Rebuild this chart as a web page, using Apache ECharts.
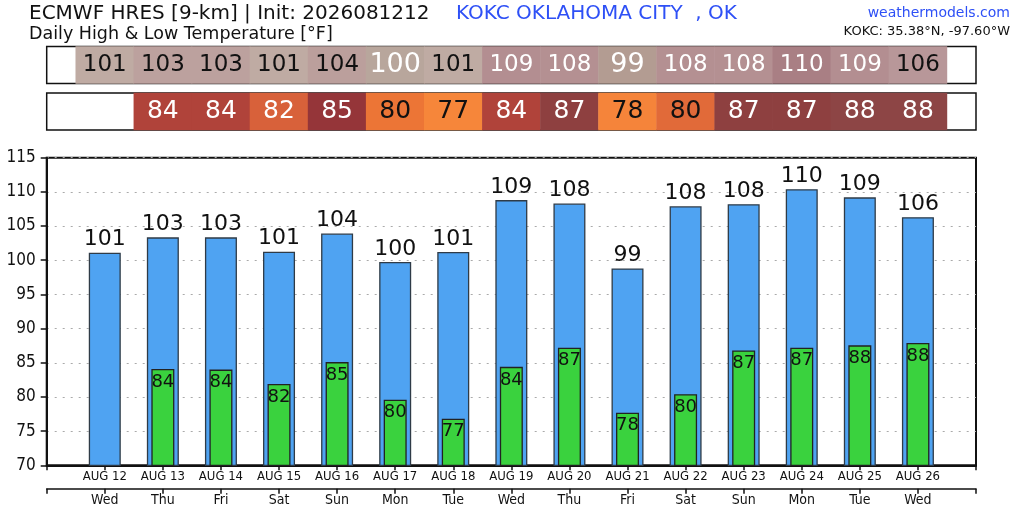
<!DOCTYPE html>
<html lang="en">
<head>
    <meta charset="UTF-8">
    <title>ECMWF HRES Daily High & Low</title>
    <script src="https://cdn.jsdelivr.net/npm/echarts@6/dist/echarts.min.js"></script>
    <style>
        html, body { margin: 0; padding: 0; background: #fff; }
        #main { width: 1024px; height: 512px; }
    </style>
</head>
<body>
<div id="main"></div>
<script type="text/javascript">
    // values
    var dates = ['AUG 12', 'AUG 13', 'AUG 14', 'AUG 15', 'AUG 16', 'AUG 17', 'AUG 18', 'AUG 19',
                 'AUG 20', 'AUG 21', 'AUG 22', 'AUG 23', 'AUG 24', 'AUG 25', 'AUG 26'];
    var days = ['Wed', 'Thu', 'Fri', 'Sat', 'Sun', 'Mon', 'Tue', 'Wed',
                'Thu', 'Fri', 'Sat', 'Sun', 'Mon', 'Tue', 'Wed'];
    var highs = [101.1, 103.35, 103.35, 101.25, 103.9, 99.74, 101.2, 108.8,
                 108.3, 98.8, 107.9, 108.2, 110.4, 109.2, 106.3];
    var lows = [null, 84.1, 84.0, 81.9, 85.1, 79.6, 76.8, 84.4,
                87.2, 77.7, 80.4, 86.8, 87.2, 87.55, 87.9];
    var yTicks = { min: 70, max: 115, step: 5 };

    var FONT = 'DejaVu Sans';
    var FONT_C = 'DejaVu Sans Condensed';

    // one empty slot on each side of the days
    var xDates = [''].concat(dates, ['']);
    var xDays = [''].concat(days, ['']);
    var highBars = [null].concat(highs, [null]);
    var lowBars = [null].concat(lows, [null]);

    var highCells = [], lowCells = [];
    for (var i = 0; i < highs.length; i++) {
        if (highs[i] != null) highCells.push([i + 1, 0, highs[i]]);
        if (lows[i] != null) lowCells.push([i + 1, 0, lows[i]]);
    }

    var myChart = echarts.init(document.getElementById('main'));

    var plotLeft = 46.7, plotRight = 48;

    function hiddenCat(grid, data) {
        return {
            type: 'category', gridIndex: grid, data: data, boundaryGap: false,
            axisLine: {show: false}, axisTick: {show: false}, axisLabel: {show: false},
            splitLine: {show: false}
        };
    }
    function hiddenRow(grid) {
        return {
            type: 'category', gridIndex: grid, data: ['r'],
            axisLine: {show: false}, axisTick: {show: false}, axisLabel: {show: false},
            splitLine: {show: false}
        };
    }

    myChart.setOption({
        backgroundColor: '#fff',
        animation: false,
        title: [
            {text: 'ECMWF HRES [9-km] | Init: 2026081212', left: 29, top: 4, padding: 0,
             textStyle: {fontFamily: FONT, fontSize: 20, fontWeight: 'normal', color: '#111'}},
            {text: 'Daily High & Low Temperature [°F]', left: 29, top: 25, padding: 0,
             textStyle: {fontFamily: FONT, fontSize: 17.5, fontWeight: 'normal', color: '#111'}},
            {text: 'KOKC OKLAHOMA CITY  , OK', left: 456, top: 4, padding: 0,
             textStyle: {fontFamily: FONT, fontSize: 20, fontWeight: 'normal', color: '#2e50f6'}},
            {text: 'weathermodels.com', right: 14, top: 6, padding: 0,
             textStyle: {fontFamily: FONT, fontSize: 14, fontWeight: 'normal', color: '#2e50f6'}},
            {text: 'KOKC: 35.38°N, -97.60°W', right: 14, top: 25, padding: 0,
             textStyle: {fontFamily: FONT, fontSize: 13, fontWeight: 'normal', color: '#111'}}
        ],
        grid: [
            {left: plotLeft, right: plotRight, top: 157.7, bottom: 46.7,
             show: true, borderColor: '#111', borderWidth: 2, backgroundColor: '#fff'},
            {left: plotLeft, right: plotRight, top: 46.5, height: 37,
             show: true, borderColor: '#111', borderWidth: 1.5, backgroundColor: '#fff'},
            {left: plotLeft, right: plotRight, top: 93, height: 37,
             show: true, borderColor: '#111', borderWidth: 1.5, backgroundColor: '#fff'}
        ],
        xAxis: [
            {
                type: 'category', gridIndex: 0, data: xDates, boundaryGap: false,
                axisLine: {lineStyle: {color: '#111', width: 2}},
                axisTick: {length: 5, interval: 0, lineStyle: {color: '#111', width: 1.5}},
                axisLabel: {interval: 0, margin: 5, fontFamily: FONT_C, fontSize: 13, color: '#111'},
                splitLine: {show: false}
            },
            {
                type: 'category', gridIndex: 0, data: xDays, boundaryGap: false,
                position: 'bottom', offset: 23.4,
                axisLine: {lineStyle: {color: '#111', width: 1.5}},
                axisTick: {length: 5, interval: 0, lineStyle: {color: '#111', width: 1.5}},
                axisLabel: {interval: 0, margin: 5, fontFamily: FONT_C, fontSize: 14, color: '#111'},
                splitLine: {show: false}
            },
            hiddenCat(1, xDates),
            hiddenCat(2, xDates)
        ],
        yAxis: [
            {
                type: 'value', gridIndex: 0, min: yTicks.min, max: yTicks.max, interval: yTicks.step,
                axisLine: {show: true, lineStyle: {color: '#111', width: 2}},
                axisTick: {show: true, length: 6, lineStyle: {color: '#111', width: 1.5}},
                axisLabel: {margin: 11, fontFamily: FONT_C, fontSize: 17, color: '#111'},
                splitLine: {show: true, lineStyle: {color: '#aaa', type: [2, 6], width: 1}}
            },
            hiddenRow(1),
            hiddenRow(2)
        ],
        visualMap: [
            {
                type: 'piecewise', show: false, seriesIndex: 2, dimension: 2,
                pieces: [
                    {lt: 99.5, color: '#b39c92'},
                    {gte: 99.5, lt: 100.5, color: '#b8a69c'},
                    {gte: 100.5, lt: 102, color: '#bfaba3'},
                    {gte: 102, lt: 103.7, color: '#bca19e'},
                    {gte: 103.7, lt: 105, color: '#bb9f9c'},
                    {gte: 105, lt: 107, color: '#b89799'},
                    {gte: 107, lt: 108.5, color: '#b49092'},
                    {gte: 108.5, lt: 110, color: '#b38e91'},
                    {gte: 110, color: '#a97f84'}
                ]
            },
            {
                type: 'piecewise', show: false, seriesIndex: 3, dimension: 2,
                pieces: [
                    {lt: 77.3, color: '#f6863a'},
                    {gte: 77.3, lt: 78.5, color: '#f5843a'},
                    {gte: 78.5, lt: 80, color: '#ec7536'},
                    {gte: 80, lt: 81, color: '#e16a39'},
                    {gte: 81, lt: 83, color: '#d8613a'},
                    {gte: 83, lt: 84.7, color: '#b0433a'},
                    {gte: 84.7, lt: 86, color: '#953539'},
                    {gte: 86, lt: 87.4, color: '#8e4040'},
                    {gte: 87.4, color: '#8d4545'}
                ]
            }
        ],
        series: [
            {
                name: 'High', type: 'bar', xAxisIndex: 0, yAxisIndex: 0,
                barWidth: 32, data: highBars,
                itemStyle: {color: '#4fa3f2', borderColor: '#2f3b47', borderWidth: 1.3},
                label: {
                    show: true, position: 'top', distance: 2,
                    fontFamily: FONT, fontSize: 22, color: '#111',
                    formatter: function (p) { return Math.round(p.value); }
                },
                emphasis: {disabled: true}
            },
            {
                name: 'Low', type: 'bar', xAxisIndex: 1, yAxisIndex: 0,
                barWidth: 23, data: lowBars, z: 3,
                itemStyle: {color: '#3ad23e', borderColor: '#222', borderWidth: 1.3},
                label: {
                    show: true, position: 'insideTop', distance: 4,
                    fontFamily: FONT, fontSize: 18, color: '#111',
                    formatter: function (p) { return Math.round(p.value); }
                },
                emphasis: {disabled: true}
            },
            {
                name: 'High table', type: 'heatmap', xAxisIndex: 2, yAxisIndex: 1,
                data: highCells,
                label: {
                    show: true,
                    formatter: function (p) {
                        var v = Math.round(p.value[2]);
                        if (v <= 100) return '{big|' + v + '}';
                        if (v >= 107) return '{w|' + v + '}';
                        return '{b|' + v + '}';
                    },
                    rich: {
                        big: {fontFamily: FONT, fontSize: 27, color: '#fff'},
                        w: {fontFamily: FONT, fontSize: 23, color: '#fff'},
                        b: {fontFamily: FONT, fontSize: 23, color: '#111'}
                    }
                },
                emphasis: {disabled: true}
            },
            {
                name: 'Low table', type: 'heatmap', xAxisIndex: 3, yAxisIndex: 2,
                data: lowCells,
                label: {
                    show: true,
                    formatter: function (p) {
                        var v = Math.round(p.value[2]);
                        return (v <= 80 ? '{b|' : '{w|') + v + '}';
                    },
                    rich: {
                        w: {fontFamily: FONT, fontSize: 25, color: '#fff'},
                        b: {fontFamily: FONT, fontSize: 25, color: '#111'}
                    }
                },
                emphasis: {disabled: true}
            }
        ]
    });
</script>
</body>
</html>
